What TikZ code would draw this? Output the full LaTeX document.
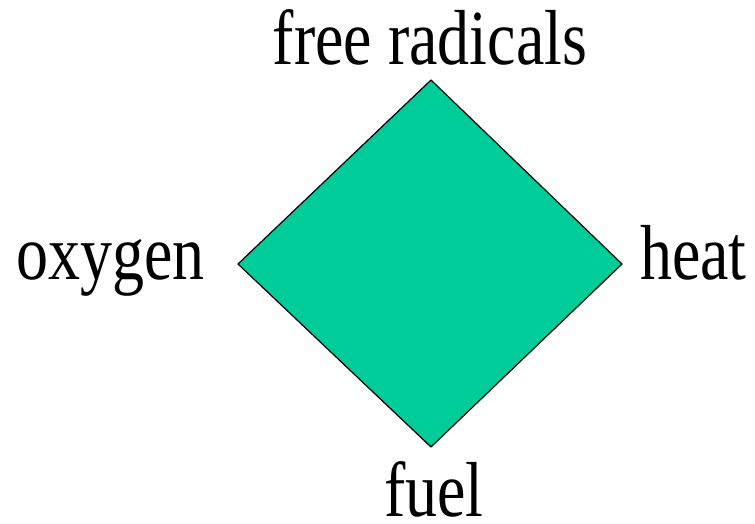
\documentclass[tikz,border=0pt]{standalone}
\usepackage{fontspec}
\setmainfont[FakeStretch=0.82]{Liberation Serif}
\definecolor{firegreen}{RGB}{0,204,153}
\tikzset{
  corner/.style={anchor=base, inner sep=0pt},
}
\begin{document}
\begin{tikzpicture}[x=1pt,y=1pt,line join=round,line cap=round, font=\fontsize{78}{90}\selectfont]
	\useasboundingbox (0,0) rectangle (755,523);
	% Ecken der Raute
	\coordinate (top) at (431,443);
	\coordinate (left) at (238,259);
	\coordinate (right) at (622,259);
	\coordinate (bottom) at (431,76);
	\draw[fill=firegreen,line width=1.2pt] (top)--(right)--(bottom)--(left)--cycle;
	\node[corner] (radicals) at (430,458) {free radicals};
	\node[corner,anchor=base east] (oxygen) at (205,244) {oxygen};
	\node[corner,anchor=base west] (heat) at (640,244) {heat};
	\node[corner] (fuel) at (434,7) {fuel};
\end{tikzpicture}
\end{document}
